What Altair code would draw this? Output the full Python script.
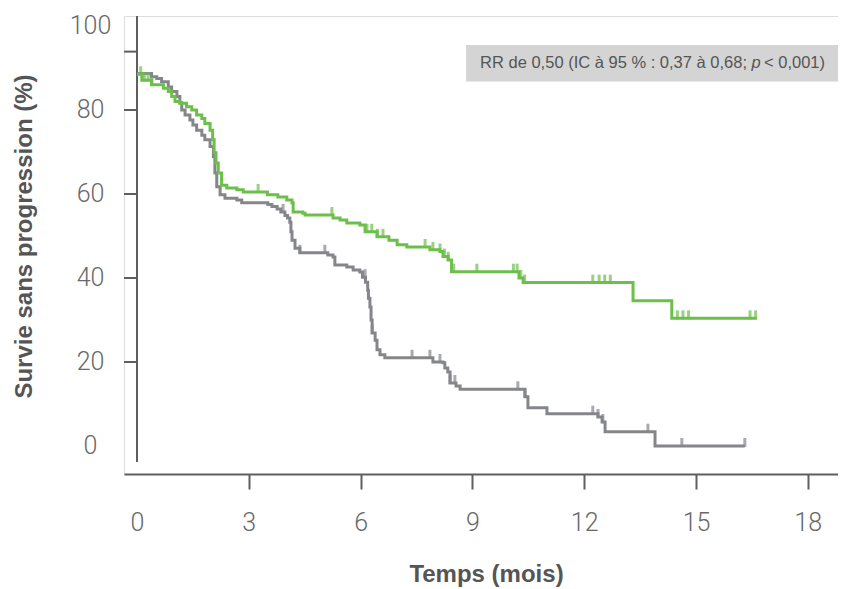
import altair as alt
import pandas as pd

# ---------------- data ----------------
green_t = [0, 0.13, 0.39, 0.71, 0.84, 0.93, 1.02, 1.15, 1.33, 1.47, 1.60, 1.74, 1.82, 1.96,
           2.03, 2.07, 2.12, 2.18, 2.27, 2.41, 2.68, 2.85, 3.50, 3.78, 4.02, 4.16, 4.19, 4.45,
           4.51, 5.26, 5.45, 5.63, 5.98, 6.12, 6.44, 6.76, 6.98, 7.24, 7.86, 8.13, 8.21, 8.35,
           8.44, 10.25, 10.36, 13.31, 14.35, 16.63]
green_v = [88.5, 87.1, 86.0, 85.2, 84.4, 83.2, 82.0, 81.6, 80.8, 80.0, 78.8, 78.0, 76.8, 75.2,
           72.9, 69.8, 67.4, 65.0, 62.1, 61.4, 61.0, 60.5, 59.8, 59.3, 58.6, 57.9, 55.7, 55.4,
           55.0, 54.3, 53.8, 53.1, 52.6, 51.0, 49.8, 49.0, 47.9, 47.4, 46.7, 46.3, 45.1, 44.3,
           41.5, 40.0, 38.9, 34.6, 30.4, 30.4]

gray_t = [0, 0.39, 0.53, 0.66, 0.84, 0.93, 1.07, 1.15, 1.20, 1.29, 1.42, 1.50, 1.60, 1.74,
          1.82, 1.96, 2.05, 2.09, 2.14, 2.23, 2.36, 2.68, 2.81, 3.51, 3.62, 3.76, 3.86, 3.97,
          4.04, 4.10, 4.13, 4.16, 4.24, 4.37, 5.12, 5.26, 5.31, 5.63, 5.80, 5.98, 6.05, 6.13,
          6.19, 6.21, 6.25, 6.28, 6.31, 6.39, 6.44, 6.52, 6.65, 7.94, 8.21, 8.26, 8.34, 8.40,
          8.56, 8.67, 10.41, 10.49, 11.00, 12.37, 12.48, 12.56, 13.90, 16.31]
gray_v = [88.7, 87.9, 87.5, 86.7, 85.5, 84.4, 83.2, 81.7, 80.0, 78.8, 77.6, 76.4, 75.2, 74.0,
          72.9, 71.3, 68.9, 65.0, 61.7, 59.8, 59.0, 58.6, 57.9, 57.5, 57.0, 56.4, 55.7, 54.9,
          54.3, 53.3, 51.0, 49.0, 47.1, 46.0, 45.5, 45.0, 43.1, 42.6, 41.9, 41.4, 40.2, 39.0,
          37.1, 35.2, 33.1, 30.0, 26.9, 25.2, 22.9, 21.7, 21.0, 20.0, 19.8, 18.6, 17.6, 15.0,
          14.3, 13.5, 11.7, 9.1, 7.7, 6.9, 5.7, 3.4, 0.0, 0.0]

green_censor_t = [0.1, 0.2, 0.3, 0.4, 3.25, 5.23, 6.17, 6.3, 6.45, 6.6, 7.73, 7.94, 8.13, 8.25,
                  8.35, 8.5, 9.12, 10.1, 10.2, 10.3, 10.4, 12.23, 12.4, 12.55, 12.7, 14.5,
                  14.65, 14.8, 16.45, 16.6]
gray_censor_t = [3.92, 4.37, 5.04, 6.12, 6.31, 7.38, 7.86, 8.13, 8.4, 8.53, 10.22, 10.41,
                 12.23, 12.37, 12.5, 13.71, 14.62, 16.31]

x_labels = [0, 3, 6, 9, 12, 15, 18]
y_labels = [0, 20, 40, 60, 80, 100]
y_tick_values = [20, 40, 60, 80, 93.9]

x_title = "Temps (mois)"
y_title = "Survie sans progression (%)"
note_part1 = "RR de 0,50 (IC à 95 % : 0,37 à 0,68;"
note_p = "p"
note_part3 = "< 0,001)"

# ---------------- layout constants ----------------
X_MIN, X_MAX = -0.3488, 18.81
Y_MIN, Y_MAX = -6.667, 102.38
GREEN = "#6cbf4a"
GRAY = "#85868a"
AXIS = "#5f5f5f"
LABEL = "#686868"
TITLE = "#555555"
LABEL_FONT = "Roboto, 'Liberation Sans', sans-serif"
TEXT_FONT = "'Liberation Sans', Arial, sans-serif"


def step_value(ts, vs, c):
    val = vs[0]
    for t, v in zip(ts, vs):
        if t <= c:
            val = v
        else:
            break
    return val


green_df = pd.DataFrame({"t": green_t, "v": green_v})
gray_df = pd.DataFrame({"t": gray_t, "v": gray_v})
green_c_df = pd.DataFrame({"t": green_censor_t,
                           "v": [step_value(green_t, green_v, c) for c in green_censor_t]})
gray_c_df = pd.DataFrame({"t": gray_censor_t,
                          "v": [step_value(gray_t, gray_v, c) for c in gray_censor_t]})
ytick_df = pd.DataFrame({"t": [X_MIN] * len(y_tick_values), "t2": [0] * len(y_tick_values),
                         "v": y_tick_values})
yaxis_df = pd.DataFrame({"t": [0], "v": [-3.81], "v2": [Y_MAX]})
box_df = pd.DataFrame({"t": [8.83], "t2": [X_MAX], "v": [95.48], "v2": [86.79]})
note_df = pd.DataFrame({"t": [16.61], "v": [91.1]})

xs = alt.Scale(domain=[X_MIN, X_MAX], nice=False, zero=False)
ys = alt.Scale(domain=[Y_MIN, Y_MAX], nice=False, zero=False)

x_axis = alt.Axis(values=x_labels, title=x_title, grid=False,
                  domainColor=AXIS, domainWidth=2,
                  tickColor=AXIS, tickWidth=2, tickSize=15,
                  tickOpacity={"expr": "datum.value == 0 ? 0 : 1"},
                  labelFont=LABEL_FONT, labelFontSize=25, labelFontWeight=300,
                  labelColor=LABEL, labelPadding=21, labelFlush=False,
                  titleFont=TEXT_FONT, titleFontSize=24, titleFontWeight="bold",
                  titleColor=TITLE, titleX=362, titleY=107,
                  titleBaseline="alphabetic", titleAlign="center")
y_axis = alt.Axis(values=y_labels, title=y_title, grid=False, domain=False,
                  ticks=False, tickSize=0,
                  labelFont=LABEL_FONT, labelFontSize=25, labelFontWeight=300,
                  labelColor=LABEL, labelAlign="center", labelPadding=34, labelFlush=False,
                  titleFont=TEXT_FONT, titleFontSize=24, titleFontWeight="bold",
                  titleColor=TITLE, titleAngle=270, titleX=-93, titleY=220,
                  titleBaseline="alphabetic", titleAlign="center")


def X(f="t"):
    return alt.X(f"{f}:Q", scale=xs, axis=x_axis)


def Y(f="v"):
    return alt.Y(f"{f}:Q", scale=ys, axis=y_axis)


box = alt.Chart(box_df).mark_rect(color="#d4d4d4").encode(
    x=X(), x2="t2:Q", y=Y(), y2="v2:Q")

txt_common = dict(font=TEXT_FONT, fontSize=16.5, color="#555555", baseline="middle")
note1 = alt.Chart(note_df).mark_text(align="right", dx=-9, **txt_common).encode(
    x=X(), y=Y(), text=alt.value(note_part1))
note2 = alt.Chart(note_df).mark_text(align="center", dx=0, fontStyle="italic", **txt_common).encode(
    x=X(), y=Y(), text=alt.value(note_p))
note3 = alt.Chart(note_df).mark_text(align="left", dx=8, **txt_common).encode(
    x=X(), y=Y(), text=alt.value(note_part3))

yaxis_line = alt.Chart(yaxis_df).mark_rule(color=AXIS, strokeWidth=2).encode(
    x=X(), y=Y(), y2="v2:Q")
yticks = alt.Chart(ytick_df).mark_rule(color=AXIS, strokeWidth=2).encode(
    x=X(), x2="t2:Q", y=Y())

gray_line = alt.Chart(gray_df).mark_line(color=GRAY, strokeWidth=3, interpolate="step-after",
                                         strokeJoin="miter").encode(x=X(), y=Y())
green_line = alt.Chart(green_df).mark_line(color=GREEN, strokeWidth=3, interpolate="step-after",
                                           strokeJoin="miter").encode(x=X(), y=Y())
gray_cens = alt.Chart(gray_c_df).mark_tick(color=GRAY, orient="vertical", size=9, thickness=3,
                                           yOffset=-3.5).encode(x=X(), y=Y())
green_cens = alt.Chart(green_c_df).mark_tick(color=GREEN, orient="vertical", size=9, thickness=3,
                                             yOffset=-3.5).encode(x=X(), y=Y())

chart = alt.layer(
    box, note1, note2, note3, yaxis_line, yticks,
    gray_line, gray_cens, green_line, green_cens
).properties(
    width=714, height=458,
    padding={"left": 116, "top": 8, "right": 0, "bottom": 115},
    autosize=alt.AutoSizeParams(type="none"),
).configure_view(stroke=None).configure(background="white")

chart.save("out.html", embed_options={"renderer": "svg", "actions": False})
